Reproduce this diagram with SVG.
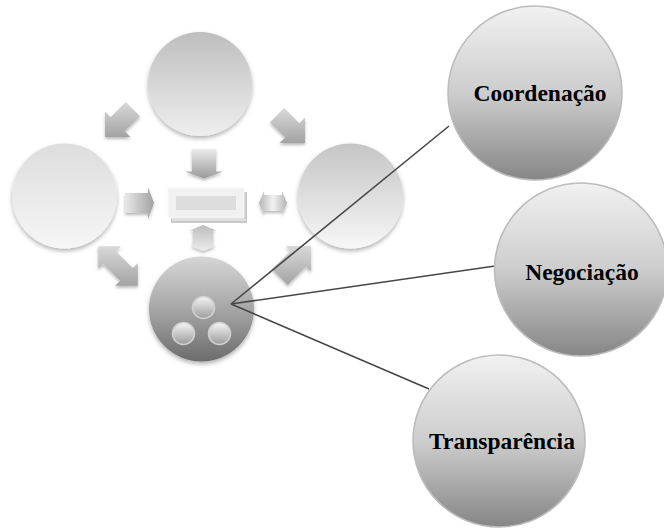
<svg xmlns="http://www.w3.org/2000/svg" width="664" height="529" viewBox="0 0 664 529">
  <defs>
    <style>
      .label { font-family: "Liberation Serif", "Times New Roman", serif; font-weight: bold; font-size: 23.5px; fill: #000; text-anchor: middle; }
      .conn { stroke: #474747; stroke-width: 1.6; fill: none; }
      .big { stroke: #bcbcbc; stroke-width: 1.6; fill: url(#gBig); }
      .dot { stroke: #cfcfcf; stroke-width: 1.6; fill: url(#gDot); }
      .diag { fill: url(#gDiag); }
    </style>
    <filter id="sh" x="-30%" y="-30%" width="160%" height="160%">
      <feDropShadow dx="0" dy="2.5" stdDeviation="2" flood-color="#000" flood-opacity="0.3"/>
    </filter>
    <filter id="shA" x="-30%" y="-30%" width="160%" height="160%">
      <feDropShadow dx="0" dy="2" stdDeviation="1.8" flood-color="#000" flood-opacity="0.28"/>
    </filter>
    <linearGradient id="gBig" x1="0" y1="0" x2="0" y2="1">
      <stop offset="0" stop-color="#f1f1f1"/>
      <stop offset="0.5" stop-color="#cdcdcd"/>
      <stop offset="1" stop-color="#868686"/>
    </linearGradient>
    <linearGradient id="gTop" x1="0" y1="0" x2="0" y2="1">
      <stop offset="0" stop-color="#bebebe"/>
      <stop offset="1" stop-color="#eeeeee"/>
    </linearGradient>
    <linearGradient id="gLeft" x1="0" y1="0" x2="0" y2="1">
      <stop offset="0" stop-color="#dddddd"/>
      <stop offset="1" stop-color="#f6f6f6"/>
    </linearGradient>
    <linearGradient id="gRight" x1="0" y1="0" x2="0" y2="1">
      <stop offset="0" stop-color="#c5c5c5"/>
      <stop offset="1" stop-color="#f7f7f7"/>
    </linearGradient>
    <linearGradient id="gHub" x1="0" y1="0" x2="0" y2="1">
      <stop offset="0" stop-color="#d6d6d6"/>
      <stop offset="0.5" stop-color="#a6a6a6"/>
      <stop offset="1" stop-color="#6c6c6c"/>
    </linearGradient>
    <linearGradient id="gDot" x1="0" y1="0" x2="0" y2="1">
      <stop offset="0" stop-color="#f6f6f6"/>
      <stop offset="1" stop-color="#9c9c9c"/>
    </linearGradient>
    <!-- diagonal arrows: light above, darker below -->
    <linearGradient id="gDiag" x1="0" y1="0" x2="0" y2="1">
      <stop offset="0" stop-color="#d9d9d9"/>
      <stop offset="1" stop-color="#a3a3a3"/>
    </linearGradient>
    <linearGradient id="gArr" x1="0" y1="0" x2="1" y2="0">
      <stop offset="0" stop-color="#e8e8e8"/>
      <stop offset="1" stop-color="#a2a2a2"/>
    </linearGradient>
    <linearGradient id="gDown" x1="0" y1="0" x2="0" y2="1">
      <stop offset="0" stop-color="#ececec"/>
      <stop offset="1" stop-color="#9a9a9a"/>
    </linearGradient>
    <linearGradient id="gEnds" x1="0" y1="0" x2="1" y2="0">
      <stop offset="0" stop-color="#b4b4b4"/>
      <stop offset="0.5" stop-color="#f2f2f2"/>
      <stop offset="1" stop-color="#b4b4b4"/>
    </linearGradient>
    <linearGradient id="gUpDown" x1="0" y1="0" x2="0" y2="1">
      <stop offset="0" stop-color="#bdbdbd"/>
      <stop offset="1" stop-color="#ececec"/>
    </linearGradient>
  </defs>

  <rect width="664" height="529" fill="#fff"/>

  <!-- cycle graphic -->
  <g id="cycle">
    <circle id="c-top" cx="200" cy="84" r="52" fill="url(#gTop)" filter="url(#sh)"/>
    <circle id="c-left" cx="64.5" cy="196" r="52.5" fill="url(#gLeft)" filter="url(#sh)"/>
    <circle id="c-right" cx="350.5" cy="196" r="52.5" fill="url(#gRight)" filter="url(#sh)"/>
    <g id="c-hub">
      <circle cx="201.5" cy="309" r="52.5" fill="url(#gHub)" filter="url(#sh)"/>
      <circle class="dot" cx="203.5" cy="307.5" r="11"/>
      <circle class="dot" cx="183.5" cy="333.5" r="11"/>
      <circle class="dot" cx="219.5" cy="333.5" r="11"/>
    </g>

    <g id="centre-box">
      <rect x="171" y="192" width="76" height="31" fill="#c9c9c9"/>
      <line x1="172" y1="220" x2="246" y2="220" stroke="#f4f4f4" stroke-width="1"/>
      <rect x="168" y="188" width="76" height="30" fill="#f1f1f1" stroke="#f8f8f8" stroke-width="1"/>
      <rect x="176" y="196" width="60" height="14" fill="#dddddd"/>
    </g>

    <g id="arrows" filter="url(#shA)">
      <!-- top -> left -->
      <polygon class="diag" points="139.97,116.17 124.77,131.37 130.43,137.03 104.97,137.03 104.97,111.57 110.63,117.23 125.83,102.03"/>
      <!-- top -> right -->
      <polygon class="diag" points="284.17,108.03 299.37,123.23 305.03,117.57 305.03,143.03 279.57,143.03 285.23,137.37 270.03,122.17"/>
      <!-- hub -> right -->
      <polygon class="diag" points="272.12,269.32 290.51,250.94 285.56,245.99 311.01,245.99 311.01,271.44 306.06,266.49 287.68,284.88"/>
      <!-- left <-> hub -->
      <polygon class="diag" points="98.2,246.2 120.83,246.2 115.88,251.15 132.85,268.12 137.8,263.17 137.8,285.8 115.17,285.8 120.12,280.85 103.15,263.88 98.2,268.83"/>
      <!-- top -> box -->
      <polygon fill="url(#gDown)"
               points="192,149 216,149 216,171.5 223,171.5 204,178.5 185,171.5 192,171.5"/>
      <!-- left -> box -->
      <polygon fill="url(#gArr)"
               points="125,193 148,193 148,187 154,203 148,219 148,213 125,213"/>
      <!-- box <-> right -->
      <polygon fill="url(#gEnds)"
               points="259,203 264,191 264,195 282,195 282,191 287,203 282,215 282,211 264,211 264,215"/>
      <!-- box <-> hub -->
      <polygon fill="url(#gUpDown)"
               points="203,225 216.5,230.5 213,230.5 213,245.5 216.5,245.5 203,251 189.5,245.5 193,245.5 193,230.5 189.5,230.5"/>
    </g>
  </g>

  <!-- connectors from the hub to the three themes -->
  <g id="connectors">
    <line class="conn" x1="231" y1="304" x2="449" y2="126"/>
    <line class="conn" x1="231" y1="304" x2="495" y2="266"/>
    <line class="conn" x1="231" y1="304" x2="429" y2="389"/>
  </g>

  <g id="n-coordenacao">
    <circle class="big" cx="535" cy="93" r="87"/>
    <text class="label" x="540" y="101">Coordenação</text>
  </g>
  <g id="n-negociacao">
    <circle class="big" cx="581" cy="269.5" r="86.5"/>
    <text class="label" x="582" y="280">Negociação</text>
  </g>
  <g id="n-transparencia">
    <circle class="big" cx="499" cy="441" r="86"/>
    <text class="label" x="502" y="449">Transparência</text>
  </g>
</svg>
